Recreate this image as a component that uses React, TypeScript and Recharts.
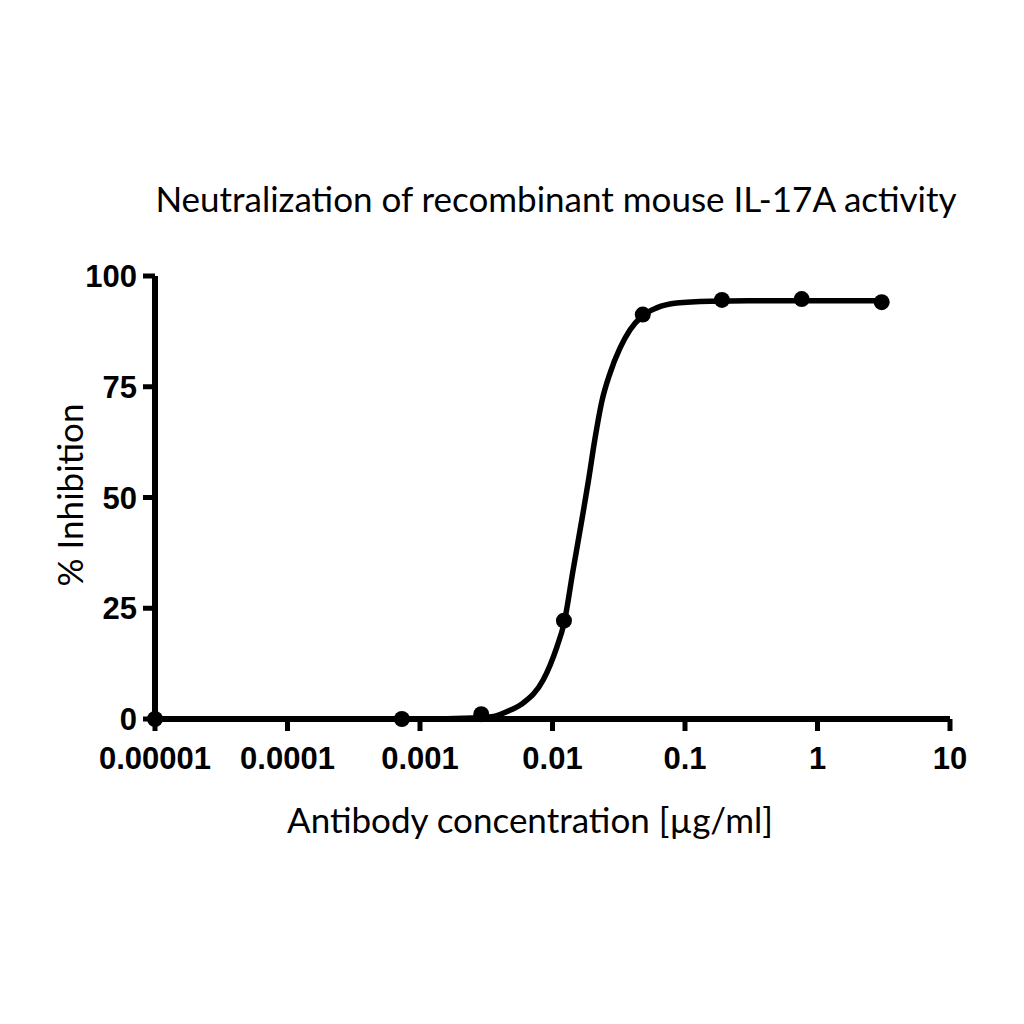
import React from "react";
import {
  ComposedChart,
  Line,
  Scatter,
  XAxis,
  YAxis,
} from "recharts";

// measured points (ug/ml vs % inhibition)
const CONC = [0.00001, 0.00073, 0.0029, 0.0122, 0.048, 0.19, 0.76, 3.05];
const INHIBITION = [0, 0, 1.1, 22.2, 91.3, 94.6, 94.8, 94.1];

// fitted curve
const FIT_CONC = [
  0.00001, 0.0001, 0.001, 0.0025, 0.0036, 0.0048, 0.006, 0.0085, 0.0108,
  0.0122, 0.0143, 0.017, 0.0186, 0.0209, 0.0235, 0.0272, 0.0323, 0.0384,
  0.0478, 0.0611, 0.0865, 0.155, 0.3, 1, 3.05,
];
const FIT_INHIBITION = [
  0, 0, 0, 0.2, 0.6, 2.0, 3.6, 8.8, 16.3, 21.5, 33.6, 46.5, 53.5, 63.2, 71.5,
  78.1, 83.7, 87.8, 91.0, 92.8, 93.9, 94.3, 94.4, 94.4, 94.4,
];

const X_TICKS = [0.00001, 0.0001, 0.001, 0.01, 0.1, 1, 10];
const X_TICK_LABELS = ["0.00001", "0.0001", "0.001", "0.01", "0.1", "1", "10"];
const Y_TICKS = [0, 25, 50, 75, 100];

const TITLE = "Neutralization of recombinant mouse IL-17A activity";
const X_LABEL = "Antibody concentration [\u00b5g/ml]";
const Y_LABEL = "% Inhibition";

const INK = "#000";
const TICK_FONT = "'Liberation Sans', Arial, sans-serif";
const LABEL_FONT = "Lato, 'Open Sans', sans-serif";

const points = CONC.map((x, i) => ({ x, y: INHIBITION[i] }));
const fit = FIT_CONC.map((x, i) => ({ x, y: FIT_INHIBITION[i] }));

function xTickLabel(v: number) {
  let best = 0;
  X_TICKS.forEach((t, i) => {
    if (Math.abs(Math.log10(t) - Math.log10(v)) < Math.abs(Math.log10(X_TICKS[best]) - Math.log10(v))) best = i;
  });
  return X_TICK_LABELS[best];
}

const Dot = (props: any) => <circle cx={props.cx} cy={props.cy} r={8} fill={INK} />;

export default function App() {
  return (
    <div style={{ position: "absolute", left: 0, top: 0, width: 1024, height: 1024, background: "#fff" }}>
      {/* title and axis titles */}
      <svg width={1024} height={1024} style={{ position: "absolute", left: 0, top: 0 }}>
        <g fontFamily={LABEL_FONT} fontSize={35} fill={INK} textAnchor="middle">
          <text x={556} y={212}>{TITLE}</text>
          <text x={530} y={833}>{X_LABEL}</text>
          <text transform="translate(83,495) rotate(-90)">{Y_LABEL}</text>
        </g>
      </svg>
      <div style={{ position: "absolute", left: 0, top: 0 }}>
        <ComposedChart
          width={1024}
          height={1024}
          margin={{ top: 276, right: 74, bottom: 185, left: 55 }}
        >
          <XAxis
            dataKey="x"
            type="number"
            scale="log"
            domain={[0.00001, 10]}
            ticks={X_TICKS}
            tickFormatter={xTickLabel}
            height={120}
            tickSize={12}
            tickMargin={16}
            axisLine={{ stroke: INK, strokeWidth: 6 }}
            tickLine={{ stroke: INK, strokeWidth: 5 }}
            tick={{ fill: INK, fontFamily: TICK_FONT, fontSize: 31, fontWeight: "bold" }}
            interval={0}
          />
          <YAxis
            dataKey="y"
            type="number"
            domain={[0, 100]}
            ticks={Y_TICKS}
            width={100}
            tickSize={12}
            tickMargin={6}
            axisLine={{ stroke: INK, strokeWidth: 6 }}
            tickLine={{ stroke: INK, strokeWidth: 5 }}
            tick={{ fill: INK, fontFamily: TICK_FONT, fontSize: 31, fontWeight: "bold" }}
            interval={0}
          />
          <Line
            data={fit}
            dataKey="y"
            type="monotone"
            stroke={INK}
            strokeWidth={5.5}
            dot={false}
            activeDot={false}
            isAnimationActive={false}
          />
          <Scatter data={points} dataKey="y" fill={INK} shape={Dot} isAnimationActive={false} />
        </ComposedChart>
      </div>
    </div>
  );
}
